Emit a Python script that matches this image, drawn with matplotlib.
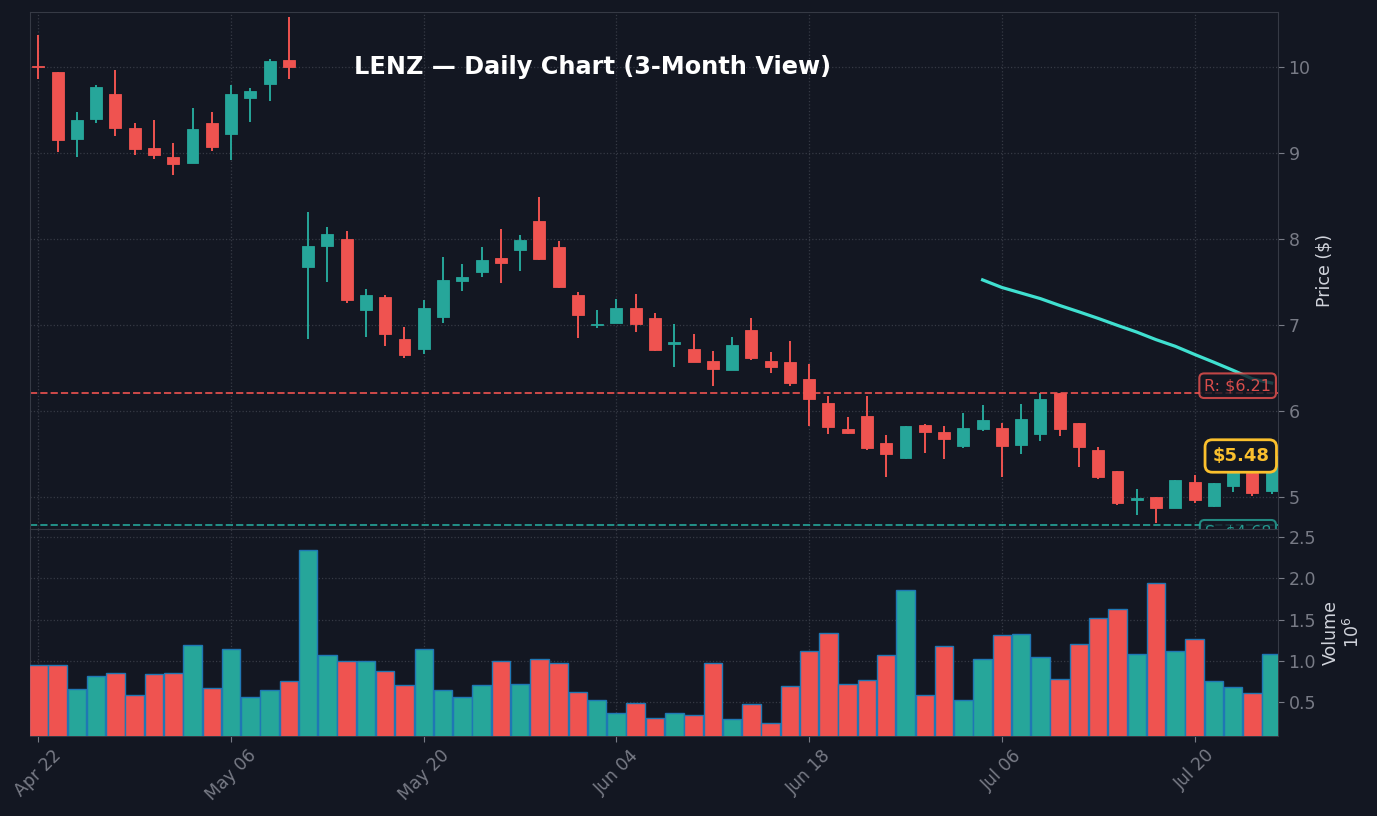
import numpy as np
import pandas as pd
import matplotlib
matplotlib.use("Agg")
import matplotlib.pyplot as plt
from matplotlib.transforms import blended_transform_factory

# daily OHLC (USD)
opens = [10.01, 9.95, 9.17, 9.40, 9.69, 9.29, 9.06, 8.96, 8.89, 9.35,
         9.22, 9.64, 9.81, 10.085, 7.68, 7.92, 8.00, 7.18, 7.33, 6.84,
         6.72, 7.10, 7.52, 7.62, 7.78, 7.87, 8.21, 7.91, 7.35, 7.00,
         7.03, 7.20, 7.09, 6.78, 6.72, 6.59, 6.48, 6.94, 6.59, 6.57,
         6.38, 6.10, 5.79, 5.94, 5.63, 5.46, 5.84, 5.76, 5.60, 5.79,
         5.80, 5.61, 5.73, 6.21, 5.86, 5.55, 5.30, 4.97, 5.00, 4.88,
         5.18, 4.90, 5.13, 5.28, 5.07]
highs = [10.38, 9.95, 9.48, 9.79, 9.97, 9.35, 9.39, 9.12, 9.53, 9.48,
         9.79, 9.76, 10.10, 10.58, 8.32, 8.14, 8.10, 7.42, 7.35, 6.98,
         7.29, 7.79, 7.71, 7.91, 8.12, 8.05, 8.49, 7.98, 7.39, 7.18,
         7.31, 7.36, 7.14, 7.02, 6.90, 6.70, 6.86, 7.09, 6.69, 6.82,
         6.55, 6.18, 5.93, 6.18, 5.72, 5.83, 5.85, 5.83, 5.98, 6.07,
         5.86, 6.08, 6.21, 6.21, 5.86, 5.59, 5.30, 5.10, 5.00, 5.20,
         5.26, 5.17, 5.40, 5.31, 5.50]
lows = [9.86, 9.02, 8.96, 9.35, 9.20, 8.98, 8.93, 8.75, 8.89, 9.03,
        8.92, 9.36, 9.61, 9.86, 6.84, 7.50, 7.26, 6.86, 6.76, 6.62,
        6.67, 7.03, 7.40, 7.56, 7.49, 7.63, 7.76, 7.43, 6.85, 6.97,
        7.03, 6.92, 6.70, 6.52, 6.57, 6.29, 6.48, 6.60, 6.45, 6.29,
        5.83, 5.74, 5.73, 5.55, 5.24, 5.45, 5.52, 5.45, 5.57, 5.77,
        5.23, 5.50, 5.66, 5.71, 5.35, 5.21, 4.91, 4.79, 4.70, 4.88,
        4.93, 4.89, 5.06, 5.02, 5.04]
closes = [10.00, 9.15, 9.39, 9.77, 9.29, 9.05, 8.98, 8.88, 9.28, 9.07,
          9.69, 9.72, 10.07, 10.00, 7.92, 8.06, 7.29, 7.35, 6.90, 6.65,
          7.20, 7.53, 7.56, 7.76, 7.73, 7.99, 7.77, 7.44, 7.12, 7.02,
          7.20, 7.01, 6.71, 6.79, 6.57, 6.49, 6.77, 6.62, 6.52, 6.33,
          6.14, 5.82, 5.75, 5.57, 5.50, 5.83, 5.76, 5.68, 5.80, 5.90,
          5.60, 5.91, 6.14, 5.79, 5.59, 5.23, 4.93, 4.98, 4.88, 5.20,
          4.97, 5.17, 5.38, 5.05, 5.48]
# volume in millions of shares
volumes = [0.95, 0.95, 0.66, 0.82, 0.85, 0.59, 0.84, 0.85, 1.19, 0.67,
           1.14, 0.56, 0.64, 0.75, 2.34, 1.07, 1.00, 1.00, 0.88, 0.71,
           1.14, 0.64, 0.56, 0.71, 1.00, 0.72, 1.02, 0.97, 0.62, 0.52,
           0.37, 0.49, 0.30, 0.37, 0.34, 0.97, 0.29, 0.47, 0.24, 0.69,
           1.12, 1.34, 0.72, 0.77, 1.07, 1.86, 0.59, 1.18, 0.53, 1.02,
           1.31, 1.33, 1.05, 0.78, 1.20, 1.52, 1.63, 1.08, 1.94, 1.12,
           1.26, 0.75, 0.68, 0.61, 1.08]

tick_pos = [0, 10, 20, 30, 40, 50, 60]
tick_labels = ["Apr 22", "May 06", "May 20", "Jun 04", "Jun 18", "Jul 06", "Jul 20"]
resistance = 6.21
support = 4.68
last_price = 5.48
sma_window = 50

BG = "#131722"
UP = "#26a69a"
DOWN = "#ef5350"
GRID = "#363a45"
TICK = "#787b86"
LABEL = "#d1d4dc"

W, H = 1377, 816
fig = plt.figure(figsize=(W / 100, H / 100), dpi=100, facecolor=BG)
left, right = 29.5, 1278
ax = fig.add_axes([left / W, 1 - 529 / H, (right - left) / W, (529 - 12) / H])
axv = fig.add_axes([left / W, 1 - 736 / H, (right - left) / W, (736 - 529) / H], sharex=ax)

x = np.arange(len(closes))
o = np.array(opens)
c = np.array(closes)
colors = [UP if cc >= oo else DOWN for oo, cc in zip(o, c)]

# candles
ax.vlines(x, lows, highs, colors=colors, lw=1.4, zorder=2)
body = np.maximum(np.abs(c - o), 0.02)
ax.bar(x, body, bottom=np.minimum(o, c), width=0.62, color=colors,
       edgecolor=colors, lw=0.6, zorder=3)

sma = pd.Series(closes).rolling(sma_window).mean()
ax.plot(x, sma, color="#40e0d0", lw=2.3, zorder=4)

ax.axhline(resistance, color=DOWN, ls="--", lw=1.4, alpha=0.85, zorder=2)
ax.axhline(support, color=UP, ls="--", lw=1.4, alpha=0.85, zorder=2)

tr = blended_transform_factory(ax.transAxes, ax.transData)
ax.text(0.9945, resistance, "R: $6.21", transform=tr, ha="right", va="bottom",
        color=DOWN, fontsize=11.5, alpha=0.9, zorder=6,
        bbox=dict(boxstyle="round,pad=0.3", fc=BG, ec=DOWN, lw=1.5, alpha=0.8))
ax.text(0.9945, support, "S: $4.68", transform=tr, ha="right", va="top",
        color=UP, fontsize=11.5, alpha=0.9, zorder=6,
        bbox=dict(boxstyle="round,pad=0.3", fc=BG, ec=UP, lw=1.5, alpha=0.8))
ax.text(0.993, last_price, f"${last_price:.2f}", transform=tr, ha="right", va="center",
        color="#fbc02d", fontsize=13, fontweight="bold", zorder=7,
        bbox=dict(boxstyle="round,pad=0.4", fc=BG, ec="#fbc02d", lw=2))

# volume
axv.bar(x, volumes, width=0.96, color=colors, edgecolor="#1f77b4", lw=1, zorder=3)

for a in (ax, axv):
    a.set_facecolor(BG)
    for s in a.spines.values():
        s.set_color(GRID)
    a.grid(True, ls=":", color=GRID, lw=0.9)
    a.set_axisbelow(True)
    a.yaxis.tick_right()
    a.yaxis.set_label_position("right")
    a.tick_params(colors=TICK, labelsize=12.5, length=4)

ax.set_xlim(-0.46, 64.33)
ax.set_ylim(4.631, 10.643)
ax.set_yticks([5, 6, 7, 8, 9, 10])
ax.set_ylabel("Price ($)", color=LABEL, fontsize=12.5, labelpad=4)
ax.tick_params(axis="x", labelbottom=False, length=0)

axv.set_ylim(0.087, 2.60)
axv.set_yticks([0.5, 1.0, 1.5, 2.0, 2.5])
axv.set_yticklabels(["0.5", "1.0", "1.5", "2.0", "2.5"])
axv.set_ylabel("Volume\n$10^{6}$", color=LABEL, fontsize=12.5, labelpad=4)
axv.set_xticks(tick_pos)
axv.set_xticklabels(tick_labels, rotation=45, ha="center")

fig.text(593 / W, 1 - 67 / H, "LENZ \u2014 Daily Chart (3-Month View)", ha="center",
         va="center", color="white", fontsize=17.3, fontweight="bold")

fig.savefig("out.png", dpi=100, facecolor=BG)
